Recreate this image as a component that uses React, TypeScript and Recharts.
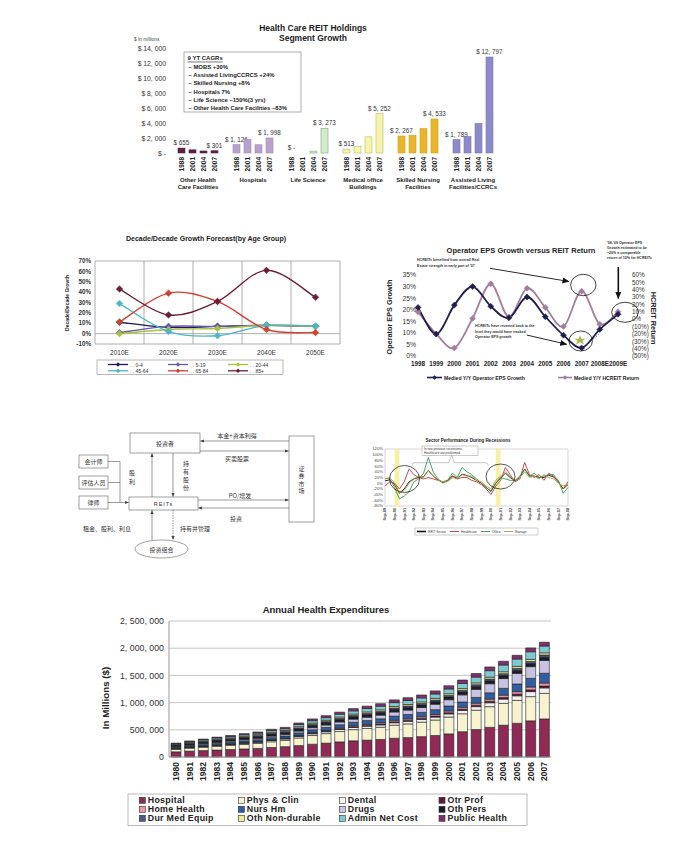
import React from "react";
import {
  Bar,
  BarChart,
  CartesianGrid,
  Line,
  LineChart,
  ReferenceArea,
  ReferenceLine,
  XAxis,
  YAxis,
} from "recharts";

const SANS = "'Liberation Sans', Arial, Helvetica, sans-serif";
const CJK = "'Noto Sans CJK SC', 'Noto Sans', sans-serif";

// ---------- Health Care REIT Holdings – segment growth ($ millions)
const holdingYears = ["1988", "2001", "2004", "2007"];
const holdingSegments = [
  ["Other Health", "Care Facilities"],
  ["Hospitals"],
  ["Life Science"],
  ["Medical office", "Buildings"],
  ["Skilled Nursing", "Facilities"],
  ["Assisted Living", "Facilities/CCRCs"],
];
const otherHealthValues = [655, 420, 270, 301];
const hospitalValues = [1126, 1800, 1100, 1998];
const lifeScienceValues = [0, 0, 250, 3273];
const medicalOfficeValues = [513, 900, 2150, 5252];
const skilledNursingValues = [2267, 2350, 3250, 4533];
const assistedLivingValues = [1789, 2200, 3950, 12797];
const holdingTicks = [0, 2000, 4000, 6000, 8000, 10000, 12000, 14000];
const holdingColors = ["#5b2046", "#b8a1cb", "#d3ebca", "#f5f4ac", "#e8b62b", "#8d8aca"];
const holdingStrokes = ["#5b2046", "#a08ab5", "#86a47c", "#bdbb66", "#d0a015", "#7875b5"];
const cagrNotes = [
  "– MOBS +30%",
  "– Assisted LivingCCRCS +24%",
  "– Skilled Nursing +8%",
  "– Hospitals 7%",
  "– Life Science –150%(3 yrs)",
  "– Other Health Care Facilities –83%",
];

// ---------- Decade/Decade growth forecast (%)
const decadePeriods = ["2010E", "2020E", "2030E", "2040E", "2050E"];
const age0to4 = [11, 6, 7, 8, 7];
const age5to19 = [1, 7, 7, 8, 7];
const age20to44 = [0, 4, 5, 8, 7];
const age45to64 = [29, 2, -2, 8, 7];
const age65to84 = [11, 39, 31, 4, 1];
const age85plus = [43, 18, 31, 61, 35];
const decadeTicks = [-10, 0, 10, 20, 30, 40, 50, 60, 70];

// ---------- Operator EPS growth vs REIT return (%)
const epsYears = ["1998", "1999", "2000", "2001", "2002", "2003", "2004", "2005", "2006", "2007", "2008E", "2009E"];
const operatorEpsGrowth = [21, 9.5, 22, 30, 21.5, 16.5, 25.5, 17, 9, 3.5, 11.5, 18];
const hcreitReturn = [10, -20, -39, 1, 48, 3, 42, 16, -10, 38, -7, 10];
const epsTicks = [0, 5, 10, 15, 20, 25, 30, 35];
const returnTicks = [-50, -40, -30, -20, -10, 0, 10, 20, 30, 40, 50, 60];

// ---------- Sector performance during recessions (% return)
const sectorDates = [
  "Sep-89", "Mar-90", "Sep-90", "Mar-91", "Sep-91", "Mar-92", "Sep-92", "Mar-93", "Sep-93", "Mar-94",
  "Sep-94", "Mar-95", "Sep-95", "Mar-96", "Sep-96", "Mar-97", "Sep-97", "Mar-98", "Sep-98", "Mar-99",
  "Sep-99", "Mar-00", "Sep-00", "Mar-01", "Sep-01", "Mar-02", "Sep-02", "Mar-03", "Sep-03", "Mar-04",
  "Sep-04", "Mar-05", "Sep-05", "Mar-06", "Sep-06", "Mar-07", "Sep-07", "Mar-08", "Sep-08",
];
const reitSector = [8, 12, -5, -35, -20, 5, 15, 20, 22, 45, 25, 12, 3, 8, 25, 17, 32, 27, 20, 10, 0, -15, -28, 0, 18, 35, 20, 8, 20, 50, 25, 25, 20, 20, 28, 22, 5, -20, -5];
const healthcareSector = [-10, 5, 0, -20, 5, 50, 30, 20, 15, 20, 15, 10, 5, 10, 25, 15, 20, 20, 10, 5, -5, -20, -40, -10, 10, 55, 30, 5, 15, 73, 30, 20, 30, 10, 35, 25, 5, -20, 5];
const officeSector = [17, 15, -15, -55, -45, -30, 5, 15, 35, 90, 40, 15, 0, 10, 35, 20, 55, 40, 30, 15, 0, -15, -30, 0, 20, 15, 10, 10, 25, 50, 25, 35, 20, 25, 30, 30, 10, -35, -15];
const storageSector = [15, 20, 0, -35, -25, 0, 15, 25, 20, 45, 25, 10, 5, 5, 20, 15, 30, 25, 25, 10, 5, -10, -20, 10, 25, 40, 25, 10, 20, 40, 20, 25, 15, 30, 20, 15, 0, -10, -5];
const sectorTicks = [-80, -60, -40, -20, 0, 20, 40, 60, 80, 100, 120];

// ---------- Annual health expenditures ($ millions)
const spendYears = [
  "1980", "1981", "1982", "1983", "1984", "1985", "1986", "1987", "1988", "1989",
  "1990", "1991", "1992", "1993", "1994", "1995", "1996", "1997", "1998", "1999",
  "2000", "2001", "2002", "2003", "2004", "2005", "2006", "2007",
];
const hospitalSpend = [95000, 108000, 118000, 128000, 138000, 148000, 158000, 175000, 190000, 210000, 235000, 255000, 278000, 298000, 310000, 322000, 345000, 358000, 375000, 395000, 425000, 465000, 505000, 545000, 585000, 620000, 665000, 700000];
const physClinSpend = [45000, 52000, 58000, 66000, 74000, 82000, 90000, 105000, 115000, 140000, 160000, 175000, 190000, 205000, 215000, 225000, 240000, 250000, 265000, 285000, 310000, 330000, 355000, 380000, 400000, 420000, 445000, 470000];
const dentalSpend = [13000, 15000, 17000, 19000, 20000, 22000, 23000, 25000, 26000, 29000, 32000, 34000, 37000, 39000, 41000, 43000, 45000, 47000, 50000, 53000, 57000, 61000, 66000, 72000, 79000, 85000, 92000, 100000];
const otrProfSpend = [5000, 6000, 7000, 7000, 8000, 8000, 9000, 9000, 10000, 11000, 12000, 13000, 14000, 15000, 16000, 17000, 18000, 18000, 19000, 20000, 22000, 24000, 26000, 28000, 30000, 31000, 33000, 35000];
const homeHealthSpend = [2000, 3000, 3000, 4000, 4000, 5000, 5000, 6000, 7000, 8000, 10000, 12000, 14000, 17000, 20000, 23000, 27000, 28000, 29000, 30000, 32000, 34000, 37000, 40000, 43000, 46000, 51000, 55000];
const nursHmSpend = [17000, 20000, 24000, 27000, 29000, 32000, 34000, 37000, 39000, 45000, 50000, 55000, 60000, 65000, 68000, 72000, 77000, 80000, 83000, 87000, 92000, 98000, 106000, 115000, 125000, 140000, 160000, 180000];
const drugsSpend = [12000, 14000, 16000, 18000, 20000, 22000, 24000, 27000, 29000, 34000, 40000, 45000, 51000, 57000, 62000, 68000, 76000, 82000, 88000, 100000, 115000, 131000, 149000, 166000, 180000, 195000, 215000, 235000];
const othPersSpend = [25000, 28000, 31000, 33000, 34000, 36000, 37000, 38000, 38000, 42000, 44000, 45000, 46000, 47000, 48000, 48000, 49000, 50000, 50000, 51000, 52000, 53000, 54000, 55000, 56000, 57000, 58000, 60000];
const durMedSpend = [7000, 8000, 9000, 10000, 11000, 12000, 13000, 14000, 14000, 16000, 17000, 18000, 19000, 20000, 21000, 22000, 23000, 24000, 25000, 26000, 27000, 29000, 31000, 32000, 34000, 36000, 38000, 40000];
const othNonDurSpend = [10000, 12000, 13000, 15000, 16000, 17000, 18000, 19000, 20000, 22000, 23000, 24000, 25000, 26000, 27000, 27000, 28000, 28000, 29000, 30000, 31000, 32000, 33000, 34000, 35000, 36000, 38000, 40000];
const adminSpend = [15000, 18000, 21000, 23000, 24000, 27000, 28000, 31000, 32000, 39000, 44000, 48000, 52000, 59000, 63000, 66000, 72000, 73000, 73000, 81000, 87000, 95000, 107000, 120000, 124000, 135000, 140000, 125000];
const publicHealthSpend = [9000, 11000, 13000, 15000, 17000, 19000, 21000, 24000, 25000, 29000, 33000, 36000, 39000, 42000, 44000, 47000, 50000, 52000, 54000, 57000, 60000, 63000, 66000, 68000, 69000, 69000, 70000, 70000];
const spendTicks = [0, 500000, 1000000, 1500000, 2000000, 2500000];

// ---------- tables built from the arrays above
const holdingSeries = [otherHealthValues, hospitalValues, lifeScienceValues, medicalOfficeValues, skilledNursingValues, assistedLivingValues];
type HoldingRow = { key: string; group: number; slot: number; year: string; value: number | null };
const holdingRows: HoldingRow[] = holdingSeries.flatMap((vals, g) => {
  const rows: HoldingRow[] = vals.map((value, slot) => ({ key: `${g}-${slot}`, group: g, slot, year: holdingYears[slot], value }));
  return g < holdingSeries.length - 1 ? [...rows, { key: `gap-${g}`, group: g, slot: -1, year: "", value: null }] : rows;
});

const ageGroups = [
  { key: "a0", name: "0-4", color: "#1c1a5a", values: age0to4 },
  { key: "a5", name: "5-19", color: "#6a58b0", values: age5to19 },
  { key: "a20", name: "20-44", color: "#a6c23a", values: age20to44 },
  { key: "a45", name: "45-64", color: "#4ab8c4", values: age45to64 },
  { key: "a65", name: "65-84", color: "#d0432f", values: age65to84 },
  { key: "a85", name: "85+", color: "#6b1e36", values: age85plus },
];
const decadeRows = decadePeriods.map((period, i) => {
  const row: Record<string, string | number> = { period };
  ageGroups.forEach((g) => (row[g.key] = g.values[i]));
  return row;
});

const epsRows = epsYears.map((year, i) => ({ year, eps: operatorEpsGrowth[i], ret: hcreitReturn[i] }));

const sectors = [
  { key: "reit", name: "REIT Sector", color: "#111111", values: reitSector },
  { key: "health", name: "Healthcare", color: "#c8343c", values: healthcareSector },
  { key: "office", name: "Office", color: "#2e9a4a", values: officeSector },
  { key: "storage", name: "Storage", color: "#a8a040", values: storageSector },
];
const sectorRows = sectorDates.map((date, i) => {
  const row: Record<string, string | number> = { date };
  sectors.forEach((s) => (row[s.key] = s.values[i]));
  return row;
});

const spendSeries = [
  { key: "hospital", name: "Hospital", color: "#8e2a55", values: hospitalSpend },
  { key: "phys", name: "Phys & Clin", color: "#f7f3cf", values: physClinSpend },
  { key: "dental", name: "Dental", color: "#f2f2f2", values: dentalSpend },
  { key: "otrProf", name: "Otr Prof", color: "#5e1838", values: otrProfSpend },
  { key: "home", name: "Home Health", color: "#f093a8", values: homeHealthSpend },
  { key: "nurs", name: "Nurs Hm", color: "#2f5fa0", values: nursHmSpend },
  { key: "drugs", name: "Drugs", color: "#c9c2e2", values: drugsSpend },
  { key: "othPers", name: "Oth Pers", color: "#1b1b2b", values: othPersSpend },
  { key: "durMed", name: "Dur Med Equip", color: "#4b5b7c", values: durMedSpend },
  { key: "othNon", name: "Oth Non-durable", color: "#eeee9a", values: othNonDurSpend },
  { key: "admin", name: "Admin Net Cost", color: "#7fc9d1", values: adminSpend },
  { key: "public", name: "Public Health", color: "#80306e", values: publicHealthSpend },
];
const spendRows = spendYears.map((year, i) => {
  const row: Record<string, string | number> = { year };
  spendSeries.forEach((s) => (row[s.key] = s.values[i]));
  return row;
});

// ---------- helpers
const spaced = (v: number) => v.toLocaleString("en-US").replace(/,/g, ", ");
const money = (v: number) => (v === 0 ? "$ -" : "$ " + spaced(v));
const pct = (v: number) => `${v}%`;
const pctParen = (v: number) => (v < 0 ? `(${-v}%)` : `${v}%`);

// Excel-like smoothed line (Catmull-Rom through the points)
function excelSmooth(context: any) {
  let pts: number[][] = [];
  return {
    areaStart() {},
    areaEnd() {},
    lineStart() {
      pts = [];
    },
    point(x: number, y: number) {
      pts.push([x, y]);
    },
    lineEnd() {
      if (!pts.length) return;
      context.moveTo(pts[0][0], pts[0][1]);
      for (let i = 0; i < pts.length - 1; i++) {
        const p0 = pts[i - 1] || pts[i];
        const p1 = pts[i];
        const p2 = pts[i + 1];
        const p3 = pts[i + 2] || p2;
        context.bezierCurveTo(
          p1[0] + (p2[0] - p0[0]) / 6,
          p1[1] + (p2[1] - p0[1]) / 6,
          p2[0] - (p3[0] - p1[0]) / 6,
          p2[1] - (p3[1] - p1[1]) / 6,
          p2[0],
          p2[1]
        );
      }
    },
  };
}

const diamondPath = (cx: number, cy: number, r: number) => `M${cx},${cy - r}L${cx + r},${cy}L${cx},${cy + r}L${cx - r},${cy}Z`;
const diamondDot = (color: string, r: number) => (props: any) => {
  const { cx, cy, index } = props;
  if (cx == null || cy == null) return <g key={`d-${index}`} />;
  return <path key={`d-${index}`} d={diamondPath(cx, cy, r)} fill={color} stroke={color} strokeWidth={0.5} />;
};

const frameCols = (n: number) => ({ offset }: any) =>
  offset ? Array.from({ length: n + 1 }, (_, k) => offset.left + (k * offset.width) / n) : [];
const frameRows = ({ offset }: any) => (offset ? [offset.top, offset.top + offset.height] : []);

function HoldingsTick(props: any) {
  const { x, y, payload } = props;
  const row = holdingRows[payload?.index ?? props.index];
  if (!row || row.slot < 0) return <g />;
  return (
    <g>
      <text transform={`translate(${x + 2.3},${y}) rotate(-90)`} textAnchor="end" fontSize={6.5} fontWeight={700} fill="#222" fontFamily={SANS}>
        {row.year}
      </text>
      {row.slot === 1 &&
        holdingSegments[row.group].map((line, i) => (
          <text key={i} x={x + 5.5} y={y + 24.5 + i * 7.5} textAnchor="middle" fontSize={6} fontWeight={700} fill="#222" fontFamily={SANS}>
            {line}
          </text>
        ))}
    </g>
  );
}

// bar + "$ value" label for first and last year of each segment
function HoldingsBar(props: any) {
  const { x, y, width, height, payload } = props;
  const row = payload as HoldingRow;
  if (!row || row.value == null || x == null) return <g />;
  const showLabel = row.slot === 0 || row.slot === 3;
  return (
    <g>
      {height > 0 && (
        <rect x={x} y={y} width={width} height={height} fill={holdingColors[row.group]} stroke={holdingStrokes[row.group]} strokeWidth={0.6} />
      )}
      {showLabel && (
        <text x={x + width / 2} y={y - 3} textAnchor="middle" fontSize={6.3} fill="#333" fontFamily={SANS}>
          {money(row.value)}
        </text>
      )}
    </g>
  );
}

function HoldingsChart() {
  return (
    <div style={{ position: "absolute", left: 130, top: 15 }}>
      <BarChart width={380} height={180} data={holdingRows} margin={{ top: 33, right: 15, left: 0, bottom: 2 }}>
        <XAxis dataKey="key" interval={0} height={40} axisLine={false} tickLine={false} tickSize={0} tickMargin={4} tick={(p: any) => <HoldingsTick {...p} />} />
        <YAxis
          width={46}
          domain={[0, 14000]}
          ticks={holdingTicks}
          interval={0}
          axisLine={false}
          tickLine={false}
          tickSize={0}
          tickMargin={10}
          tick={(p: any) => (
            <text x={p.x} y={p.y} textAnchor="end" dominantBaseline="central" fontSize={6.8} fill="#333" fontFamily={SANS}>
              {money(p.payload.value)}
            </text>
          )}
        />
        <Bar dataKey="value" barSize={7} shape={(p: any) => <HoldingsBar {...p} />} isAnimationActive={false} />
      </BarChart>
    </div>
  );
}

function DecadeChart() {
  return (
    <div style={{ position: "absolute", left: 60, top: 230 }}>
      <LineChart width={290} height={150} data={decadeRows} margin={{ top: 31, right: 10, left: 0, bottom: 0 }}>
        <CartesianGrid stroke="#9a9a9a" strokeWidth={0.8} verticalCoordinatesGenerator={frameCols(5)} horizontalCoordinatesGenerator={frameRows} />
        <ReferenceLine y={0} stroke="#9a9a9a" strokeWidth={0.8} />
        <XAxis dataKey="period" scale="band" axisLine={false} tickLine={false} tickSize={4} tickMargin={2} height={36} tick={{ fontSize: 6.5, fill: "#333", fontFamily: SANS }} />
        <YAxis
          width={35}
          domain={[-10, 70]}
          ticks={decadeTicks}
          interval={0}
          axisLine={false}
          tickLine={false}
          tickSize={0}
          tickMargin={4}
          tick={{ fontSize: 6.3, fill: "#333", fontWeight: 700, fontFamily: SANS }}
          tickFormatter={pct}
        />
        {ageGroups.map((g) => (
          <Line
            key={g.key}
            dataKey={g.key}
            name={g.name}
            type={excelSmooth as any}
            stroke={g.color}
            strokeWidth={1.4}
            dot={diamondDot(g.color, 3.3)}
            isAnimationActive={false}
          />
        ))}
      </LineChart>
    </div>
  );
}

function EpsChart() {
  return (
    <div style={{ position: "absolute", left: 370, top: 235 }}>
      <LineChart width={300} height={150} data={epsRows} margin={{ top: 40, right: 0, left: 0, bottom: 9 }}>
        <XAxis
          dataKey="year"
          scale="point"
          padding={{ left: 0, right: 0 }}
          axisLine={false}
          tickLine={false}
          tickSize={4}
          tickMargin={2}
          height={20}
          interval={0}
          tick={{ fontSize: 6.3, fill: "#222", fontWeight: 700, fontFamily: SANS }}
        />
        <YAxis
          yAxisId="eps"
          width={48}
          domain={[0, 35]}
          ticks={epsTicks}
          interval={0}
          axisLine={false}
          tickLine={false}
          tickSize={0}
          tickMargin={2}
          tick={{ fontSize: 6.8, fill: "#333", fontFamily: SANS }}
          tickFormatter={pct}
        />
        <YAxis
          yAxisId="ret"
          orientation="right"
          width={52}
          domain={[-50, 60]}
          ticks={returnTicks}
          interval={0}
          axisLine={false}
          tickLine={false}
          tickSize={0}
          tickMargin={14}
          tick={{ fontSize: 6.3, fill: "#333", fontFamily: SANS }}
          tickFormatter={pctParen}
        />
        <Line yAxisId="ret" dataKey="ret" name="Medied Y/Y HCREIT Return" type={excelSmooth as any} stroke="#a57d9c" strokeWidth={1.8} dot={diamondDot("#a57d9c", 3)} isAnimationActive={false} />
        <Line yAxisId="eps" dataKey="eps" name="Medied Y/Y Operator EPS Growth" type={excelSmooth as any} stroke="#1f1f4f" strokeWidth={1.8} dot={diamondDot("#1f1f4f", 3)} isAnimationActive={false} />
      </LineChart>
    </div>
  );
}

function SectorChart() {
  return (
    <div style={{ position: "absolute", left: 345, top: 432 }}>
      <LineChart width={230} height={105} data={sectorRows} margin={{ top: 17, right: 7, left: 0, bottom: 9 }}>
        <CartesianGrid stroke="#bbb" strokeWidth={0.6} verticalCoordinatesGenerator={frameCols(1)} horizontalCoordinatesGenerator={frameRows} />
        <ReferenceArea x1="Sep-90" x2="Mar-91" fill="#f4ef9a" fillOpacity={0.85} stroke="none" />
        <ReferenceArea x1="Mar-01" x2="Sep-01" fill="#f4ef9a" fillOpacity={0.85} stroke="none" />
        <XAxis
          dataKey="date"
          interval={1}
          height={22}
          axisLine={false}
          tickLine={false}
          tickSize={0}
          tickMargin={2}
          tick={(p: any) => (
            <text transform={`translate(${p.x + 1.3},${p.y}) rotate(-90)`} textAnchor="end" fontSize={3.8} fontWeight={700} fill="#444" fontFamily={SANS}>
              {p.payload.value}
            </text>
          )}
        />
        <YAxis
          width={40}
          domain={[-80, 120]}
          ticks={sectorTicks}
          interval={0}
          axisLine={false}
          tickLine={false}
          tickSize={0}
          tickMargin={2}
          tick={{ fontSize: 4.2, fill: "#444", fontFamily: SANS }}
          tickFormatter={pct}
        />
        {sectors.map((s) => (
          <Line key={s.key} dataKey={s.key} name={s.name} type="linear" stroke={s.color} strokeWidth={0.9} dot={false} isAnimationActive={false} />
        ))}
      </LineChart>
    </div>
  );
}

function ExpenditureChart() {
  return (
    <div style={{ position: "absolute", left: 90, top: 595 }}>
      <BarChart width={480} height={200} data={spendRows} margin={{ top: 26, right: 19, left: 0, bottom: 8 }}>
        <CartesianGrid stroke="#b5b5b5" strokeWidth={0.8} vertical={false} />
        <XAxis
          dataKey="year"
          interval={0}
          height={30}
          axisLine={{ stroke: "#999" }}
          tickLine={false}
          tickSize={0}
          tickMargin={5}
          tick={(p: any) => (
            <text transform={`translate(${p.x + 3.1},${p.y}) rotate(-90)`} textAnchor="end" fontSize={8.5} fontWeight={700} fill="#222" fontFamily={SANS}>
              {p.payload.value}
            </text>
          )}
        />
        <YAxis
          width={79}
          domain={[0, 2500000]}
          ticks={spendTicks}
          interval={0}
          axisLine={{ stroke: "#999" }}
          tickLine={false}
          tickSize={0}
          tickMargin={5}
          tick={{ fontSize: 8.8, fill: "#333", fontFamily: SANS }}
          tickFormatter={(v: number) => (v === 0 ? "0" : spaced(v))}
        />
        {spendSeries.map((s) => (
          <Bar key={s.key} dataKey={s.key} name={s.name} stackId="spend" fill={s.color} stroke="#222" strokeWidth={0.6} barSize={10} isAnimationActive={false} />
        ))}
      </BarChart>
    </div>
  );
}

function FlowDiagram() {
  const box = { fill: "#fff", stroke: "#777", strokeWidth: 0.7 };
  const wire = { stroke: "#555", strokeWidth: 0.6, fill: "none" };
  const t = { fontFamily: CJK, fontSize: 6, fill: "#333", textAnchor: "middle" as const, dominantBaseline: "central" as const };
  const side: [string, number][] = [
    ["会计师", 455],
    ["评估人员", 476],
    ["律师", 496],
  ];
  return (
    <g>
      <rect x={130} y={433} width={70} height={20} {...box} />
      <text x={165} y={443} {...t}>投资者</text>
      <rect x={129} y={497} width={69} height={13} {...box} />
      <text x={163.5} y={503.5} {...t} fontFamily={SANS} fontSize={5.5} letterSpacing={1}>REITs</text>
      <rect x={289} y={436} width={25} height={86} {...box} />
      {["证", "券", "市", "场"].map((c, i) => (
        <text key={c} x={301.5} y={468 + i * 7.5} {...t}>{c}</text>
      ))}
      {side.map(([s, y]) => (
        <g key={s}>
          <rect x={79} y={y} width={29} height={13} {...box} />
          <text x={93.5} y={y + 6.5} {...t}>{s}</text>
        </g>
      ))}
      <path d="M108,461.5 H120 M108,482.5 H120 M120,461.5 V502.5" {...wire} />
      <line x1={108} y1={502.5} x2={128.5} y2={502.5} {...wire} markerEnd="url(#flowArrow)" />
      <line x1={152} y1={497} x2={152} y2={453.5} {...wire} markerEnd="url(#flowArrow)" />
      <line x1={173} y1={453} x2={173} y2={496.5} {...wire} markerEnd="url(#flowArrow)" />
      <text x={132} y={472} {...t}>股</text>
      <text x={132} y={481} {...t}>利</text>
      {["持", "有", "股", "份"].map((c, i) => (
        <text key={i} x={186} y={463 + i * 8} {...t}>{c}</text>
      ))}
      <line x1={289} y1={441} x2={200.5} y2={441} {...wire} markerEnd="url(#flowArrow)" />
      <text x={237} y={435.5} {...t}>本金+资本利得</text>
      <line x1={200} y1={451} x2={288.5} y2={451} {...wire} markerEnd="url(#flowArrow)" />
      <text x={237} y={458} {...t}>买卖股票</text>
      <line x1={198} y1={500} x2={288.5} y2={500} {...wire} markerEnd="url(#flowArrow)" />
      <text x={240} y={495.5} {...t}>PO/增发</text>
      <line x1={289} y1={508} x2={198.5} y2={508} {...wire} markerEnd="url(#flowArrow)" />
      <text x={236} y={518} {...t}>投资</text>
      <line x1={152} y1={540} x2={152} y2={510.5} {...wire} markerEnd="url(#flowArrow)" />
      <line x1={173} y1={510} x2={173} y2={539.5} {...wire} strokeDasharray="1.5 1" markerEnd="url(#flowArrow)" />
      <text x={107} y={528} {...t}>租金、股利、利息</text>
      <text x={195} y={528} {...t}>持有并管理</text>
      <ellipse cx={161.5} cy={549} rx={26.5} ry={9} {...box} />
      <text x={161.5} y={549} {...t}>投资组合</text>
    </g>
  );
}

function Overlay() {
  const bold = { fontFamily: SANS, fontWeight: 700, fill: "#222" };
  const mid = { textAnchor: "middle" as const, dominantBaseline: "central" as const };
  const tiny = { fontFamily: SANS, fontWeight: 700, fontSize: 3.6, fill: "#333" };
  const sectorLegend = [
    { line: 417, text: 428 },
    { line: 450, text: 461 },
    { line: 481, text: 492 },
    { line: 504, text: 515 },
  ];
  return (
    <svg width={700} height={849} style={{ position: "absolute", left: 0, top: 0, pointerEvents: "none" }}>
      <defs>
        <marker id="flowArrow" markerWidth="4" markerHeight="4" refX="3.6" refY="2" orient="auto" markerUnits="userSpaceOnUse">
          <path d="M0,0.4 L4,2 L0,3.6 Z" fill="#444" />
        </marker>
        <marker id="bigArrow" markerWidth="7" markerHeight="7" refX="6.5" refY="3.5" orient="auto" markerUnits="userSpaceOnUse">
          <path d="M0,0.5 L7,3.5 L0,6.5 Z" fill="#111" />
        </marker>
      </defs>

      {/* Health Care REIT Holdings */}
      <text x={313} y={27.5} fontSize={8.5} {...bold} {...mid}>Health Care REIT Holdings</text>
      <text x={313} y={38} fontSize={8.5} {...bold} {...mid}>Segment Growth</text>
      <text x={134} y={39} fontSize={4.8} fontFamily={SANS} fill="#444" dominantBaseline="central">$ In millions</text>
      <rect x={184} y={52} width={117} height={60} fill="#fff" stroke="#999" strokeWidth={0.8} />
      <text x={187.5} y={57.7} fontSize={6} {...bold} dominantBaseline="central" textDecoration="underline">9 YT CAGRs</text>
      {cagrNotes.map((n, i) => (
        <text key={n} x={188.5} y={66.7 + i * 8.33} fontSize={5.9} {...bold} dominantBaseline="central">{n}</text>
      ))}

      {/* Decade / Decade */}
      <text x={206} y={238.5} fontSize={7} {...bold} {...mid}>Decade/Decade Growth Forecast(by Age Group)</text>
      <text transform="translate(67,303) rotate(-90)" fontSize={5} {...bold} {...mid}>Decade/Decade Growth</text>
      <rect x={97} y={360} width={186} height={14.5} fill="#fff" stroke="#999" strokeWidth={0.7} />
      {ageGroups.map((g, i) => {
        const x = 108 + (i % 3) * 60;
        const y = 364.5 + Math.floor(i / 3) * 6.3;
        return (
          <g key={g.key}>
            <line x1={x} x2={x + 20} y1={y} y2={y} stroke={g.color} strokeWidth={1.3} />
            <path d={diamondPath(x + 10, y, 2.2)} fill={g.color} />
            <text x={x + 22} y={y} fontSize={5} fontFamily={SANS} fill="#333" dominantBaseline="central">{". . " + g.name}</text>
          </g>
        );
      })}

      {/* Operator EPS vs REIT return */}
      <text x={521} y={250} fontSize={7.5} {...bold} {...mid}>Operator EPS Growth versus REIT Return</text>
      <text transform="translate(389,317) rotate(-90)" fontSize={7.3} {...bold} {...mid}>Operator EPS Growth</text>
      <text transform="translate(653,318) rotate(90)" fontSize={7.3} {...bold} {...mid}>HCREIT Return</text>
      <text x={417} y={261} {...tiny}>HCREITs benefited from overall Real</text>
      <text x={417} y={266.5} {...tiny}>Estate strength in early part of '07</text>
      <line x1={490} y1={268.3} x2={569} y2={281.5} stroke="#111" strokeWidth={0.9} markerEnd="url(#bigArrow)" />
      <ellipse cx={583.3} cy={285} rx={12.7} ry={10.7} fill="none" stroke="#111" strokeWidth={0.8} />
      <text x={607} y={244} {...tiny}>'08-'09 Operator EPS</text>
      <text x={607} y={249} {...tiny}>Growth estimated to be</text>
      <text x={607} y={254} {...tiny}>~20% a comparable</text>
      <text x={607} y={259} {...tiny}>return of 10% for HCREITs</text>
      <line x1={618.3} y1={267} x2={618.3} y2={298.5} stroke="#111" strokeWidth={1.6} markerEnd="url(#bigArrow)" />
      <ellipse cx={625} cy={312.3} rx={13.3} ry={10} fill="none" stroke="#111" strokeWidth={0.8} />
      <text x={475} y={327} {...tiny}>HCREITs have reverted back to the</text>
      <text x={475} y={332.5} {...tiny}>level they would have tracked</text>
      <text x={475} y={338} {...tiny}>Operator EPS growth</text>
      <line x1={526.7} y1={335} x2={566.7} y2={344.3} stroke="#111" strokeWidth={0.9} markerEnd="url(#bigArrow)" />
      <ellipse cx={580.7} cy={341} rx={11.7} ry={10} fill="none" stroke="#111" strokeWidth={0.8} />
      <path d="M580,335.5 L581.6,339 L585.5,338.6 L582.6,341 L584,344.5 L580,342.3 L576,344.5 L577.4,341 L574.5,338.6 L578.4,339 Z" fill="#a9b84c" />
      <line x1={585} y1={346} x2={599} y2={334} stroke="#333" strokeWidth={0.8} strokeDasharray="2 1.5" />
      <line x1={427} x2={442} y1={377.5} y2={377.5} stroke="#1f1f4f" strokeWidth={1.6} />
      <path d={diamondPath(434.5, 377.5, 2.3)} fill="#1f1f4f" />
      <text x={444} y={377.5} fontSize={5.1} {...bold} dominantBaseline="central">Medied Y/Y Operator EPS Growth</text>
      <line x1={558} x2={572} y1={377.5} y2={377.5} stroke="#a57d9c" strokeWidth={1.6} />
      <path d={diamondPath(565, 377.5, 2.3)} fill="#a57d9c" />
      <text x={574} y={377.5} fontSize={5.1} {...bold} dominantBaseline="central">Medied Y/Y HCREIT Return</text>

      {/* REIT structure diagram */}
      <FlowDiagram />

      {/* Sector performance */}
      <text x={468} y={440.5} fontSize={4.5} {...bold} {...mid}>Sector Performance During Recessions</text>
      <rect x={422} y={446} width={56} height={9.5} fill="#fff" stroke="#999" strokeWidth={0.5} />
      <text x={424} y={449.3} fontSize={3.2} fontFamily={SANS} fill="#333" dominantBaseline="central">In two previous recessions,</text>
      <text x={424} y={453} fontSize={3.2} fontFamily={SANS} fill="#333" dominantBaseline="central">Healthcare out performed</text>
      <path d="M412,465.5 Q412,462.7 415,462.7 L448.5,462.7 L451.7,455.5 L454.5,462.7 L485,462.7 Q488.3,462.7 488.3,465.5" fill="none" stroke="#888" strokeWidth={0.5} />
      <ellipse cx={404.5} cy={479} rx={15} ry={13.5} fill="none" stroke="#111" strokeWidth={0.7} />
      <ellipse cx={500.5} cy={476.5} rx={14.5} ry={12.5} fill="none" stroke="#111" strokeWidth={0.7} />
      <rect x={415} y={528} width={123} height={7} fill="#fff" stroke="#999" strokeWidth={0.5} />
      {sectors.map((s, i) => (
        <g key={s.key}>
          <line x1={sectorLegend[i].line} x2={sectorLegend[i].line + 9} y1={531.5} y2={531.5} stroke={s.color} strokeWidth={i === 0 ? 1.6 : 0.9} />
          <text x={sectorLegend[i].text} y={531.5} fontSize={3.3} fontFamily={SANS} fill="#333" dominantBaseline="central">{s.name}</text>
        </g>
      ))}

      {/* Annual health expenditures */}
      <text x={326} y={609} fontSize={9.5} {...bold} {...mid}>Annual Health Expenditures</text>
      <text transform="translate(105,698) rotate(-90)" fontSize={9.8} {...bold} {...mid}>In Millions ($)</text>
      <rect x={128} y={794} width={399} height={31.5} fill="#fff" stroke="#aaa" strokeWidth={0.8} />
      {spendSeries.map((s, i) => {
        const cx = [139.3, 238.3, 339.3, 439][i % 4];
        const cy = [800.3, 809.3, 818.3][Math.floor(i / 4)];
        return (
          <g key={s.key}>
            <rect x={cx} y={cy - 3} width={6} height={6} fill={s.color} stroke="#333" strokeWidth={0.6} />
            <text x={cx + 8.5} y={cy} fontSize={8.8} {...bold} letterSpacing={0.3} dominantBaseline="central">{s.name}</text>
          </g>
        );
      })}
    </svg>
  );
}

export default function App() {
  return (
    <div style={{ position: "absolute", left: 0, top: 0, width: 700, height: 849, background: "#fff", fontFamily: SANS, overflow: "hidden" }}>
      <HoldingsChart />
      <DecadeChart />
      <EpsChart />
      <SectorChart />
      <ExpenditureChart />
      <Overlay />
    </div>
  );
}
